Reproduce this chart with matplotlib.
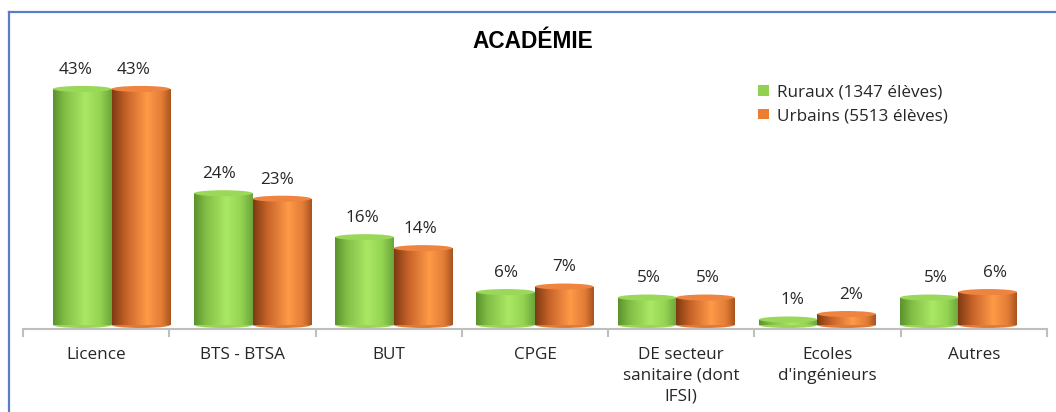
import numpy as np
import matplotlib.pyplot as plt
from matplotlib.patches import Ellipse, Rectangle
from matplotlib.colors import LinearSegmentedColormap
from matplotlib.lines import Line2D

plt.rcParams['font.family'] = ['Open Sans', 'DejaVu Sans']

# Data
categories = ["Licence", "BTS - BTSA", "BUT", "CPGE",
              "DE secteur\nsanitaire (dont\nIFSI)", "Ecoles\nd'ingénieurs", "Autres"]
ruraux = [43, 24, 16, 6, 5, 1, 5]
urbains = [43, 23, 14, 7, 5, 2, 6]
series_labels = ["Ruraux (1347 élèves)", "Urbains (5513 élèves)"]

# cylinder shading (left -> right)
green_cmap = LinearSegmentedColormap.from_list(
    "g", [(0, "#5a922c"), (0.2, "#82be46"), (0.55, "#aae864"), (0.8, "#94d452"), (1, "#6aa53a")])
orange_cmap = LinearSegmentedColormap.from_list(
    "o", [(0, "#7e3a12"), (0.25, "#c8642a"), (0.6, "#ff9a48"), (0.85, "#e07c36"), (1, "#a8531f")])
green_top = "#9ad85a"
orange_top = "#ee8440"

fig = plt.figure(figsize=(10.56, 4.12), dpi=100)
ax = fig.add_axes([23 / 1056, 1 - 329 / 412, (1047 - 23) / 1056, (329 - 60) / 412])

ax.set_xlim(-0.5, 6.5)
ax.set_ylim(-0.73, 48.27)

width = 0.40
grad = np.linspace(0, 1, 256).reshape(1, -1)
ell_h = 1.1
fs = 12.3


def cylinder(x0, val, cmap, topc):
    im = ax.imshow(grad, cmap=cmap, aspect='auto', extent=[x0, x0 + width, 0, val],
                   zorder=2, interpolation='bilinear')
    clip = Rectangle((x0, 0), width, val, transform=ax.transData)
    im.set_clip_path(clip)
    bot = Ellipse((x0 + width / 2, 0), width, ell_h, facecolor=cmap(0.4), edgecolor='none', zorder=1.9)
    ax.add_patch(bot)
    top = Ellipse((x0 + width / 2, val), width, ell_h, facecolor=topc, edgecolor='none', zorder=3)
    ax.add_patch(top)


for i in range(len(categories)):
    shift = 0.105 - 0.035 * i
    c = i + shift
    xg = c - width
    xo = c
    cylinder(xg, ruraux[i], green_cmap, green_top)
    cylinder(xo, urbains[i], orange_cmap, orange_top)
    lab_shift = -0.45 * shift
    ax.annotate(f"{ruraux[i]}%", (xg + width / 2 + lab_shift, ruraux[i]), xytext=(0, 8),
                textcoords='offset points', ha='center', va='bottom', fontsize=fs, color='#262626')
    ax.annotate(f"{urbains[i]}%", (xo + width / 2 + lab_shift, urbains[i]), xytext=(0, 8),
                textcoords='offset points', ha='center', va='bottom', fontsize=fs, color='#262626')

# axis
for s in ['left', 'top', 'right']:
    ax.spines[s].set_visible(False)
ax.spines['bottom'].set_color('#bfbfbf')
ax.spines['bottom'].set_linewidth(1.5)
ax.set_yticks([])
ax.set_xticks(np.arange(-0.5, 7, 1))
ax.set_xticklabels([])
ax.tick_params(axis='x', length=6, width=1.5, color='#bfbfbf')
ax.set_xticks(range(len(categories)), minor=True)
ax.set_xticklabels(categories, minor=True, fontsize=fs, color='#262626', linespacing=1.4, va='top')
ax.tick_params(axis='x', which='minor', length=0, pad=13)

# legend
h1 = Rectangle((0, 0), 1, 1, facecolor="#92d050")
h2 = Rectangle((0, 0), 1, 1, facecolor="#ed7d31")
ax.legend([h1, h2], series_labels, loc='upper left', bbox_to_anchor=(743 / 1056, 1 - 69 / 412),
          bbox_transform=fig.transFigure, frameon=False, fontsize=fs, handlelength=0.6,
          handleheight=0.6, handletextpad=0.5, labelspacing=0.45, labelcolor='#262626')

fig.text(533 / 1056, 1 - 41 / 412, "ACADÉMIE", ha='center', va='center', fontsize=16.3,
         fontweight='bold', family='Liberation Sans')

# frame lines (top and left)
fig.add_artist(Line2D([8.5 / 1056, 8.5 / 1056], [0, 1 - 12 / 412], transform=fig.transFigure,
                      color='#5b7cc6', lw=1.6))
fig.add_artist(Line2D([8.5 / 1056, 1], [1 - 12 / 412, 1 - 12 / 412], transform=fig.transFigure,
                      color='#5b7cc6', lw=1.6))

fig.savefig("out.png", dpi=100)
